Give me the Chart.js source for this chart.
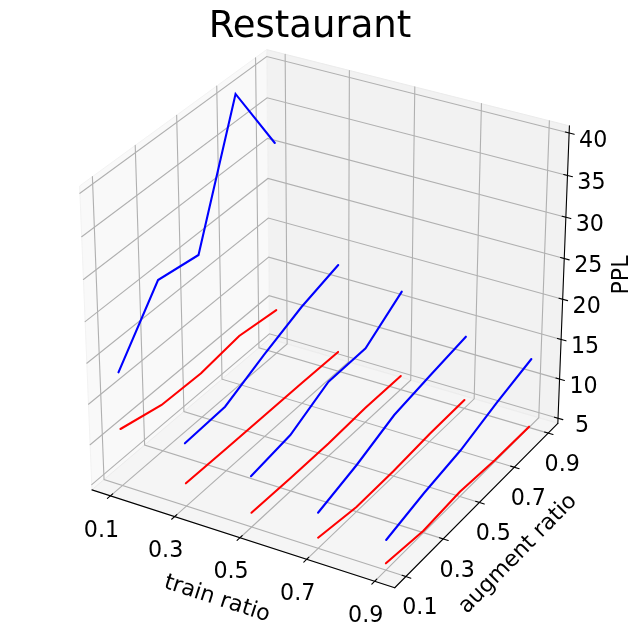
<!DOCTYPE html>
<html>
<head>
<meta charset="utf-8">
<style>
    html, body { margin: 0; padding: 0; background: #fff; }
    canvas { display: block; }
</style>
<script src="https://cdn.jsdelivr.net/npm/chart.js@4"></script>
</head>
<body>
<canvas id="chart" width="640" height="636"></canvas>
<script>
const titleText = "Restaurant";
const trainRatios = [0.1, 0.3, 0.5, 0.7, 0.9];
const augmentRatios = [0.1, 0.3, 0.5, 0.7, 0.9];
const pplTicks = [5, 10, 15, 20, 25, 30, 35, 40];

// One row per train ratio, one value per augment ratio
const bluePPL = [
    [18.39, 25.55, 24.72, 40.47, 31.06],
    [12.15, 12.38, 14.65, 16.62, 17.99],
    [10.63, 11.34, 13.71, 13.76, 16.88],
    [8.74, 10.15, 12.01, 12.79, 13.50],
    [8.04, 9.26, 10.15, 11.71, 13.05],
];
const redPPL = [
    [11.42, 10.15, 9.96, 10.63, 9.96],
    [7.19, 7.09, 7.02, 6.96, 6.84],
    [6.12, 5.97, 5.94, 6.18, 6.10],
    [5.66, 4.92, 4.99, 5.32, 5.42],
    [5.18, 4.59, 4.94, 4.52, 4.44],
];

// Axis limits of the 3D box
const xLim = [0.04167, 0.95833];
const yLim = [0.04167, 0.95833];
const zLim = [4.34, 40.84];

// Same view as a default mplot3d axes
const elev = 30 * Math.PI / 180;
const azim = -60 * Math.PI / 180;
const viewDist = 10;
const n = [Math.cos(elev) * Math.cos(azim), Math.cos(elev) * Math.sin(azim), Math.sin(elev)];
const u = [-Math.sin(azim), Math.cos(azim), 0];
const v = [n[1] * u[2] - n[2] * u[1], n[2] * u[0] - n[0] * u[2], n[0] * u[1] - n[1] * u[0]];

// Chart units are page pixels
const centerX = 328.5, centerY = 309.5, scaleX = 3495, scaleY = 3470;
const titleFont = 37, titleTopPad = 5, titleBottomPad = 0;
const plotTop = titleFont * 1.2 + titleTopPad + titleBottomPad;
const rightPad = 20;

function project(tx, ay, z) {
    const X = (tx - xLim[0]) / (xLim[1] - xLim[0]) - 0.5;
    const Y = (ay - yLim[0]) / (yLim[1] - yLim[0]) - 0.5;
    const Z = (z - zLim[0]) / (zLim[1] - zLim[0]) - 0.5;
    const xv = u[0] * X + u[1] * Y;
    const yv = v[0] * X + v[1] * Y + v[2] * Z;
    const zv = n[0] * X + n[1] * Y + n[2] * Z;
    const w = viewDist - zv;
    return { x: centerX + scaleX * xv / w, y: centerY - scaleY * yv / w };
}

function path3d(points, color, width) {
    return {
        data: points.map((p) => project(p[0], p[1], p[2])),
        showLine: true,
        borderColor: color,
        borderWidth: width,
        pointRadius: 0,
        fill: false,
        clip: false,
        borderCapStyle: "round",
    };
}

function pane(points, color, edge) {
    const ds = path3d(points.concat([points[0]]), edge, 1);
    ds.fill = "shape";
    ds.backgroundColor = color;
    return ds;
}

const datasets = [];

// Data lines first: in Chart.js the first dataset is painted on top
for (let i = trainRatios.length - 1; i >= 0; i--) {
    datasets.push(path3d(augmentRatios.map((a, j) => [trainRatios[i], a, redPPL[i][j]]), "#ff0000", 2.08));
    datasets.push(path3d(augmentRatios.map((a, j) => [trainRatios[i], a, bluePPL[i][j]]), "#0000ff", 2.08));
}

const axisColor = "#000000";
const axisWidth = 1.1;
const tickIn = 0.012, tickOut = 0.016;
const xSpan = xLim[1] - xLim[0], ySpan = yLim[1] - yLim[0];

// Axis lines and tick marks
datasets.push(path3d([[xLim[0], yLim[0], zLim[0]], [xLim[1], yLim[0], zLim[0]]], axisColor, axisWidth));
datasets.push(path3d([[xLim[1], yLim[0], zLim[0]], [xLim[1], yLim[1], zLim[0]]], axisColor, axisWidth));
datasets.push(path3d([[xLim[1], yLim[1], zLim[0]], [xLim[1], yLim[1], zLim[1]]], axisColor, axisWidth));
trainRatios.forEach((t) => {
    datasets.push(path3d([[t, yLim[0] + tickIn * ySpan, zLim[0]], [t, yLim[0] - tickOut * ySpan, zLim[0]]], axisColor, axisWidth));
});
augmentRatios.forEach((a) => {
    datasets.push(path3d([[xLim[1] - tickIn * xSpan, a, zLim[0]], [xLim[1] + tickOut * xSpan, a, zLim[0]]], axisColor, axisWidth));
});
pplTicks.forEach((z) => {
    datasets.push(path3d([[xLim[1] - tickIn * xSpan, yLim[1], z], [xLim[1] + tickOut * xSpan, yLim[1], z]], axisColor, axisWidth));
});

// Grid on the three panes
const gridColor = "#b0b0b0";
const gridWidth = 1.1;
trainRatios.forEach((t) => {
    datasets.push(path3d([[t, yLim[0], zLim[0]], [t, yLim[1], zLim[0]], [t, yLim[1], zLim[1]]], gridColor, gridWidth));
});
augmentRatios.forEach((a) => {
    datasets.push(path3d([[xLim[1], a, zLim[0]], [xLim[0], a, zLim[0]], [xLim[0], a, zLim[1]]], gridColor, gridWidth));
});
pplTicks.forEach((z) => {
    datasets.push(path3d([[xLim[0], yLim[0], z], [xLim[0], yLim[1], z], [xLim[1], yLim[1], z]], gridColor, gridWidth));
});

// Panes at the back
datasets.push(pane([[xLim[0], yLim[0], zLim[0]], [xLim[1], yLim[0], zLim[0]], [xLim[1], yLim[1], zLim[0]], [xLim[0], yLim[1], zLim[0]]], "#f5f5f5", "#ececec"));
datasets.push(pane([[xLim[0], yLim[0], zLim[0]], [xLim[0], yLim[1], zLim[0]], [xLim[0], yLim[1], zLim[1]], [xLim[0], yLim[0], zLim[1]]], "#f9f9f9", "#f2f2f2"));
datasets.push(pane([[xLim[0], yLim[1], zLim[0]], [xLim[1], yLim[1], zLim[0]], [xLim[1], yLim[1], zLim[1]], [xLim[0], yLim[1], zLim[1]]], "#f2f2f2", "#ebebeb"));

// Tick labels and axis names sit on the projected axes
const axisText = {
    id: "axisText",
    afterDraw(chart) {
        const { ctx, scales } = chart;
        const at = (p, dx, dy) => ({ x: scales.x.getPixelForValue(p.x) + dx, y: scales.y.getPixelForValue(p.y) + dy });
        const put = (text, pos, size, angle) => {
            ctx.save();
            ctx.translate(pos.x, pos.y);
            ctx.rotate(angle * Math.PI / 180);
            ctx.font = size + 'px "DejaVu Sans"';
            ctx.fillStyle = "#000000";
            ctx.textAlign = "center";
            ctx.textBaseline = "middle";
            ctx.fillText(text, 0, 0);
            ctx.restore();
        };
        const labelSize = 22.2;
        trainRatios.forEach((t) => {
            put(t.toFixed(1), at(project(t, yLim[0], zLim[0]), -9, 35), labelSize, 0);
        });
        augmentRatios.forEach((a) => {
            put(a.toFixed(1), at(project(xLim[1], a, zLim[0]), 14, 32), labelSize, 0);
        });
        pplTicks.forEach((z) => {
            put(String(z), at(project(xLim[1], yLim[1], z), 24, 8), labelSize, 0);
        });
        put("train ratio", { x: 217, y: 599 }, labelSize, 18.1);
        put("augment ratio", { x: 518, y: 554 }, labelSize, -45.5);
        put("PPL", { x: 622.5, y: 275 }, labelSize, -90);
    },
};

new Chart(document.getElementById("chart"), {
    type: "scatter",
    data: { datasets },
    plugins: [axisText],
    options: {
        responsive: false,
        animation: false,
        events: [],
        layout: { padding: { left: 0, right: rightPad, top: 0, bottom: 0 } },
        scales: {
            x: { type: "linear", display: false, min: 0, max: 640 - rightPad },
            y: { type: "linear", display: false, min: plotTop, max: 636, reverse: true },
        },
        plugins: {
            legend: { display: false },
            tooltip: { enabled: false },
            title: {
                display: true,
                text: titleText,
                fullSize: false,
                color: "#000000",
                font: { family: "DejaVu Sans", size: titleFont, weight: "normal", lineHeight: 1.2 },
                padding: { top: titleTopPad, bottom: titleBottomPad },
            },
        },
    },
});
</script>
</body>
</html>
